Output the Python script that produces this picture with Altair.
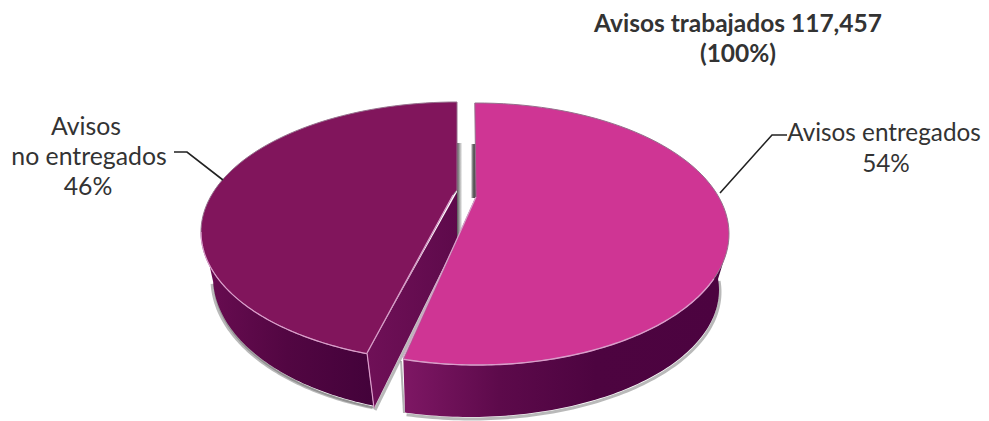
import math
import altair as alt
import pandas as pd

# ---- values
title_lines = ["Avisos trabajados 117,457", "(100%)"]
label_entregados = ["Avisos entregados", "54%"]
label_no_entregados = ["Avisos", "no entregados", "46%"]

# ellipse = (cx, cy, rx, ry) in picture pixels
PINK_TOP = (477, 234, 252, 131)
PINK_LOW = (470, 290, 249, 127)
PURP_TOP = (457, 232, 256, 130)
PURP_LOW = (457, 277, 244, 137)

PINK_ANGLES = (-0.5, 197)
PURP_ANGLES = (200.6, 360)

C_PINK = "#cf3594"
C_PURPLE = "#81155c"
C_RIM = "#dc9ccb"
C_BACK = "#95708c"
C_TEXT = "#333333"

X = alt.Scale(domain=[8, 981], range=[0, 973])
Y = alt.Scale(domain=[8, 421], range=[0, 413])


def arc(ell, a0, a1, n=90):
    cx, cy, rx, ry = ell
    out = []
    for i in range(n + 1):
        t = math.radians(a0 + (a1 - a0) * i / n)
        out.append((cx + rx * math.sin(t), cy - ry * math.cos(t)))
    return out


def frame(points):
    return pd.DataFrame({"x": [p[0] for p in points], "y": [p[1] for p in points],
                         "i": list(range(len(points)))})


def enc(ch):
    return ch.encode(x=alt.X("x:Q", scale=X, axis=None),
                     y=alt.Y("y:Q", scale=Y, axis=None),
                     order="i:Q")


def poly(points, fill, stroke=None, sw=1.0):
    pts = list(points) + [points[0]]
    return enc(alt.Chart(frame(pts)).mark_line(fill=fill, strokeWidth=sw,
                                               stroke=stroke if stroke else "transparent"))


def line(points, color, sw=1.0, opacity=1.0):
    return enc(alt.Chart(frame(points)).mark_line(stroke=color, strokeWidth=sw, opacity=opacity))


def grad(stops):
    return {"gradient": "linear", "x1": 0, "y1": 0, "x2": 1, "y2": 0,
            "stops": [{"offset": o, "color": c} for o, c in stops]}


def shifted(points, dx, dy):
    return [(x + dx, y + dy) for x, y in points]


def text_rows(rows, size, weight="normal"):
    df = pd.DataFrame(rows, columns=["x", "y", "t"])
    return alt.Chart(df).mark_text(font="Lato", fontSize=size, fontWeight=weight,
                                   color=C_TEXT, align="center", baseline="middle").encode(
        x=alt.X("x:Q", scale=X, axis=None), y=alt.Y("y:Q", scale=Y, axis=None), text="t:N")


# ---- purple slice
p_top = arc(PURP_TOP, *PURP_ANGLES) + [(457, 190), (453, 195)]
p_low = arc(PURP_LOW, 200, 268)
p_wall = arc(PURP_TOP, 200.6, 272) + p_low[::-1]
p_face = [(367, 353), (374, 408), (457, 240), (457, 192)]

# ---- pink slice
k_top = arc(PINK_TOP, *PINK_ANGLES) + [(476, 197)]
k_low = arc(PINK_LOW, 85, 195)
k_wall = arc(PINK_TOP, 102, 197) + [(405, 412)] + k_low[::-1]

layers = [
    # gap shadows
    poly([(457, 143), (462, 143), (462, 238), (457, 238)], grad([(0, "#555555"), (1, "#f4f4f4")])),
    poly([(471, 144), (476, 144), (476, 198), (471, 198)], grad([(0, "#f0f0f0"), (0.4, "#666666"), (1, "#444444")])),
    # soft shadows under the walls
    line(shifted(p_low, -1, 2), "#808080", 3, 0.55),
    line(shifted(p_low, 1, 2), "#808080", 2, 0.7),
    line(shifted(p_face[1:3], 1, 2), "#808080", 3, 0.55),
    line(shifted(k_low, 1, 2), "#808080", 3, 0.55),
    line(shifted([(402, 360), (405, 412)], -1, 1), "#808080", 2, 0.6),
    # purple walls + top
    poly(p_face, grad([(0, "#6f1057"), (1, "#5e0a4b")])),
    poly(p_wall, grad([(0, "#6a0d52"), (0.5, "#520642"), (1, "#43023a")])),
    line(p_face[:2], C_RIM, 1.2),
    poly(p_top, C_PURPLE, C_BACK, 1),
    line(arc(PURP_TOP, 200.6, 270), C_RIM, 1.2),
    line([(367, 353), (453, 195)], C_RIM, 1.2),
    # pink wall + top
    poly(k_wall, grad([(0, "#7e1764"), (0.3, "#5d0a4b"), (0.6, "#4d0440"), (1, "#4c0340")])),
    poly(k_top, C_PINK, C_BACK, 1),
    line(arc(PINK_TOP, 110, 197), C_RIM, 1.4),
    line([(403, 358), (476, 197)], C_RIM, 1.2),
    # leaders
    line([(174, 152), (187, 152), (223, 180)], "#222222", 1.6),
    line([(787, 135), (772, 135), (720, 193)], "#222222", 1.6),
    # texts
    text_rows([(738, 25, title_lines[0]), (738, 55, title_lines[1])], 24.5, "bold"),
    text_rows([(884, 134, label_entregados[0]), (886, 165, label_entregados[1])], 24.3),
    text_rows([(86, 128, label_no_entregados[0]), (89, 158, label_no_entregados[1]),
               (88, 188, label_no_entregados[2])], 24.8),
]

chart = alt.layer(*layers).properties(
    width=973, height=413, padding=0,
    autosize=alt.AutoSizeParams(type="none"), background="white",
).configure_view(stroke=None)

chart.save("out.html", embed_options={"renderer": "svg", "actions": False})
